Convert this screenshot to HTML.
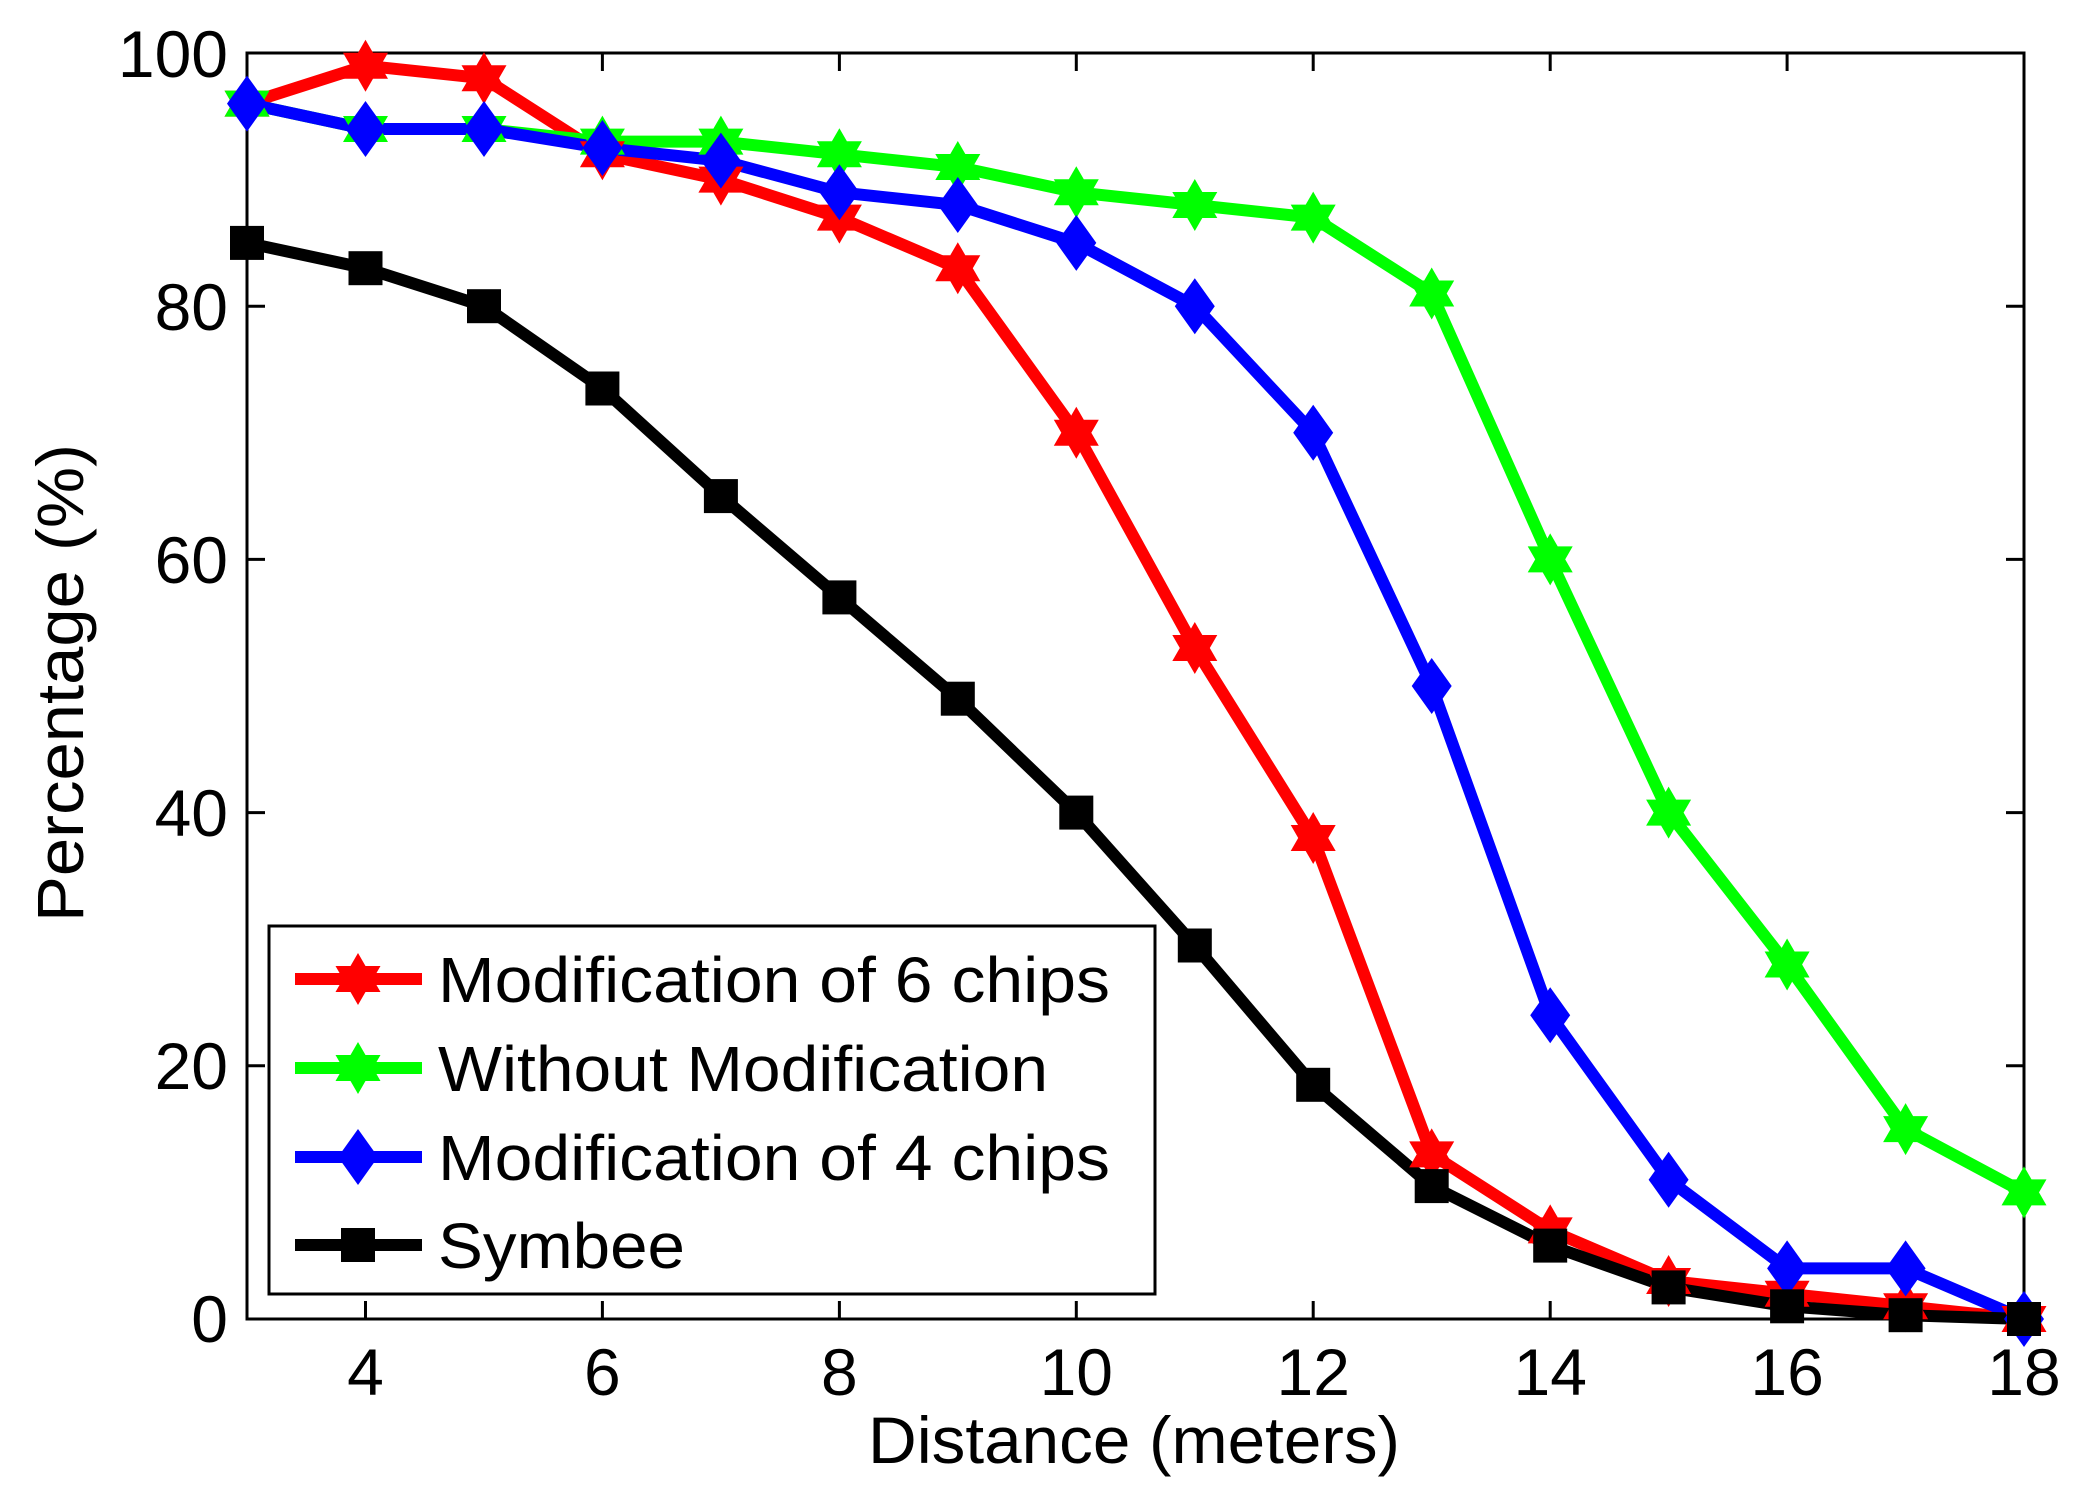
<!DOCTYPE html>
<html><head><style>body{margin:0;background:#fff}svg{display:block}text{font-family:"Liberation Sans",sans-serif;fill:#000}</style></head>
<body>
<svg width="2081" height="1493" viewBox="0 0 2081 1493" xmlns="http://www.w3.org/2000/svg">
<defs>
<path id="st" d="M0,-26 7.5,-13 22.5,-13 15,0 22.5,13 7.5,13 0,26 -7.5,13 -22.5,13 -15,0 -22.5,-13 -7.5,-13Z"/>
<path id="dm" d="M0,-28 20,0 0,28 -20,0Z"/>
<rect id="sq" x="-17" y="-17" width="34" height="34"/>
</defs>
<rect x="247" y="53" width="1777" height="1266" fill="none" stroke="#000" stroke-width="3"/>
<g stroke="#000" stroke-width="3">
<path d="M365.5,1319v-18M602.4,1319v-18M839.4,1319v-18M1076.3,1319v-18M1313.2,1319v-18M1550.2,1319v-18M1787.1,1319v-18M365.5,53v18M602.4,53v18M839.4,53v18M1076.3,53v18M1313.2,53v18M1550.2,53v18M1787.1,53v18"/>
<path d="M247,1065.8h18M247,812.6h18M247,559.4h18M247,306.2h18M2024,1065.8h-18M2024,812.6h-18M2024,559.4h-18M2024,306.2h-18"/>
</g>
<g font-size="66" text-anchor="end">
<text x="228" y="1342">0</text><text x="228" y="1089">20</text><text x="228" y="836">40</text><text x="228" y="583">60</text><text x="228" y="330">80</text><text x="228" y="77">100</text>
</g>
<g font-size="66" text-anchor="middle">
<text x="365.5" y="1395">4</text><text x="602.4" y="1395">6</text><text x="839.4" y="1395">8</text><text x="1076.3" y="1395">10</text><text x="1313.2" y="1395">12</text><text x="1550.2" y="1395">14</text><text x="1787.1" y="1395">16</text><text x="2024" y="1395">18</text>
</g>
<text x="868" y="1463" font-size="66" textLength="532" lengthAdjust="spacingAndGlyphs">Distance (meters)</text>
<text transform="translate(83,683) rotate(-90)" font-size="66" text-anchor="middle" textLength="478" lengthAdjust="spacingAndGlyphs">Percentage (%)</text>
<g fill="none" stroke-width="12" stroke-linejoin="miter">
<polyline stroke="#f00" points="247,103.6 365.5,65.7 484,78.3 602.4,154.3 720.9,179.6 839.4,217.6 957.8,268.2 1076.3,432.8 1194.8,648 1313.2,838 1431.7,1154.4 1550.2,1230.4 1668.6,1281 1787.1,1293.7 1905.6,1306.3 2024,1319"/>
<polyline stroke="#0f0" points="247,103.6 365.5,129 484,129 602.4,141.6 720.9,141.6 839.4,154.3 957.8,167 1076.3,192.3 1194.8,205 1313.2,217.6 1431.7,293.5 1550.2,559.4 1668.6,812.6 1787.1,964.5 1905.6,1129.1 2024,1192.4"/>
<polyline stroke="#00f" points="247,103.6 365.5,129 484,129 602.4,148 720.9,160.6 839.4,192.3 957.8,205 1076.3,242.9 1194.8,306.2 1313.2,432.8 1431.7,686 1550.2,1015.2 1668.6,1179.7 1787.1,1268.4 1905.6,1268.4 2024,1319"/>
<polyline stroke="#000" points="247,242.9 365.5,268.2 484,306.2 602.4,388.5 720.9,496.1 839.4,597.4 957.8,698.7 1076.3,812.6 1194.8,945.5 1313.2,1084.8 1431.7,1186.1 1550.2,1245.6 1668.6,1287.4 1787.1,1306.3 1905.6,1315.2 2024,1319"/>
</g>
<g fill="#f00">
<use href="#st" x="247" y="103.6"/><use href="#st" x="365.5" y="65.7"/><use href="#st" x="484" y="78.3"/><use href="#st" x="602.4" y="154.3"/><use href="#st" x="720.9" y="179.6"/><use href="#st" x="839.4" y="217.6"/><use href="#st" x="957.8" y="268.2"/><use href="#st" x="1076.3" y="432.8"/><use href="#st" x="1194.8" y="648"/><use href="#st" x="1313.2" y="838"/><use href="#st" x="1431.7" y="1154.4"/><use href="#st" x="1550.2" y="1230.4"/><use href="#st" x="1668.6" y="1281"/><use href="#st" x="1787.1" y="1293.7"/><use href="#st" x="1905.6" y="1306.3"/><use href="#st" x="2024" y="1319"/>
</g>
<g fill="#0f0">
<use href="#st" x="247" y="103.6"/><use href="#st" x="365.5" y="129"/><use href="#st" x="484" y="129"/><use href="#st" x="602.4" y="141.6"/><use href="#st" x="720.9" y="141.6"/><use href="#st" x="839.4" y="154.3"/><use href="#st" x="957.8" y="167"/><use href="#st" x="1076.3" y="192.3"/><use href="#st" x="1194.8" y="205"/><use href="#st" x="1313.2" y="217.6"/><use href="#st" x="1431.7" y="293.5"/><use href="#st" x="1550.2" y="559.4"/><use href="#st" x="1668.6" y="812.6"/><use href="#st" x="1787.1" y="964.5"/><use href="#st" x="1905.6" y="1129.1"/><use href="#st" x="2024" y="1192.4"/>
</g>
<g fill="#00f">
<use href="#dm" x="247" y="103.6"/><use href="#dm" x="365.5" y="129"/><use href="#dm" x="484" y="129"/><use href="#dm" x="602.4" y="148"/><use href="#dm" x="720.9" y="160.6"/><use href="#dm" x="839.4" y="192.3"/><use href="#dm" x="957.8" y="205"/><use href="#dm" x="1076.3" y="242.9"/><use href="#dm" x="1194.8" y="306.2"/><use href="#dm" x="1313.2" y="432.8"/><use href="#dm" x="1431.7" y="686"/><use href="#dm" x="1550.2" y="1015.2"/><use href="#dm" x="1668.6" y="1179.7"/><use href="#dm" x="1787.1" y="1268.4"/><use href="#dm" x="1905.6" y="1268.4"/><use href="#dm" x="2024" y="1319"/>
</g>
<g fill="#000">
<use href="#sq" x="247" y="242.9"/><use href="#sq" x="365.5" y="268.2"/><use href="#sq" x="484" y="306.2"/><use href="#sq" x="602.4" y="388.5"/><use href="#sq" x="720.9" y="496.1"/><use href="#sq" x="839.4" y="597.4"/><use href="#sq" x="957.8" y="698.7"/><use href="#sq" x="1076.3" y="812.6"/><use href="#sq" x="1194.8" y="945.5"/><use href="#sq" x="1313.2" y="1084.8"/><use href="#sq" x="1431.7" y="1186.1"/><use href="#sq" x="1550.2" y="1245.6"/><use href="#sq" x="1668.6" y="1287.4"/><use href="#sq" x="1787.1" y="1306.3"/><use href="#sq" x="1905.6" y="1315.2"/><use href="#sq" x="2024" y="1319"/>
</g>
<rect x="269" y="926" width="886" height="368" fill="#fff" stroke="#000" stroke-width="3"/>
<g stroke-width="12">
<line x1="295" y1="979" x2="422" y2="979" stroke="#f00"/>
<line x1="295" y1="1068" x2="422" y2="1068" stroke="#0f0"/>
<line x1="295" y1="1157" x2="422" y2="1157" stroke="#00f"/>
<line x1="295" y1="1245" x2="422" y2="1245" stroke="#000"/>
</g>
<use href="#st" x="358" y="979" fill="#f00"/>
<use href="#st" x="358" y="1068" fill="#0f0"/>
<use href="#dm" x="358" y="1157" fill="#00f"/>
<use href="#sq" x="358" y="1245" fill="#000"/>
<g font-size="64" lengthAdjust="spacingAndGlyphs">
<text x="438" y="1002" textLength="672" lengthAdjust="spacingAndGlyphs">Modification of 6 chips</text>
<text x="438" y="1091" textLength="610" lengthAdjust="spacingAndGlyphs">Without Modification</text>
<text x="438" y="1180" textLength="672" lengthAdjust="spacingAndGlyphs">Modification of 4 chips</text>
<text x="438" y="1268" textLength="247" lengthAdjust="spacingAndGlyphs">Symbee</text>
</g>
</svg>
</body></html>
